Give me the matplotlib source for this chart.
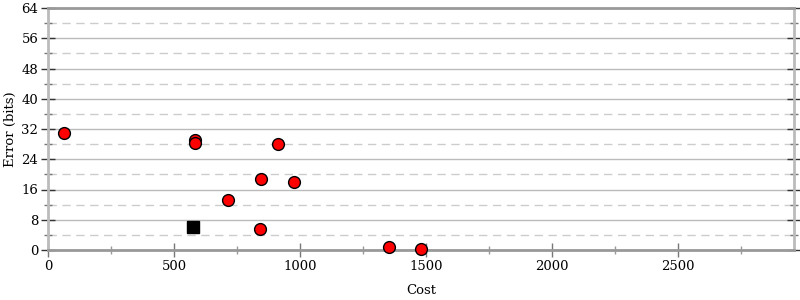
import matplotlib
matplotlib.use("Agg")
import matplotlib.pyplot as plt
from matplotlib.ticker import MultipleLocator

# puntos candidatos (costo, error en bits)
costos = [63, 583, 583, 913, 845, 976, 714, 841, 1353, 1480]
errores = [30.9, 29.1, 28.3, 28.1, 18.8, 18.1, 13.3, 5.6, 0.8, 0.25]

# punto inicial
costo_ini = [575]
error_ini = [6.1]

plt.rcParams["font.family"] = "DejaVu Serif"
plt.rcParams["font.size"] = 9.5

fig = plt.figure(figsize=(8, 3), dpi=100)
ax = fig.add_axes([48 / 800, 50 / 300, 746 / 800, 242 / 300])

ax.set_xlim(0, 2960)
ax.set_ylim(0, 64)

ax.yaxis.set_major_locator(MultipleLocator(8))
ax.yaxis.set_minor_locator(MultipleLocator(4))
ax.xaxis.set_major_locator(MultipleLocator(500))
ax.xaxis.set_minor_locator(MultipleLocator(250))

# cuadricula: solida en multiplos de 8, discontinua en los intermedios
ax.grid(True, which="major", axis="y", color="#bbbbbb", linewidth=1)
ax.grid(True, which="minor", axis="y", color="#cccccc", linewidth=1,
        linestyle=(0, (6, 4)))
ax.set_axisbelow(True)

ax.tick_params(axis="y", which="major", direction="inout", length=10,
               width=1, color="#333333", right=True, pad=2)
ax.tick_params(axis="y", which="minor", direction="inout", length=6,
               width=1, color="#777777", right=True)
ax.tick_params(axis="x", which="major", direction="inout", length=10,
               width=1, color="#777777", top=False, pad=2)
ax.tick_params(axis="x", which="minor", direction="inout", length=6,
               width=1, color="#999999", top=False)

ax.spines["left"].set_color("#bbbbbb")
ax.spines["left"].set_linewidth(2)
ax.spines["right"].set_color("#bbbbbb")
ax.spines["right"].set_linewidth(2)
ax.spines["bottom"].set_color("#999999")
ax.spines["bottom"].set_linewidth(2)
ax.spines["top"].set_color("#999999")
ax.spines["top"].set_linewidth(2)

ax.plot(costos, errores, "o", markersize=8.5, markerfacecolor="red",
        markeredgecolor="black", markeredgewidth=1, clip_on=False, zorder=3)
ax.plot(costo_ini, error_ini, "s", markersize=8, color="black",
        clip_on=False, zorder=3)

ax.set_xlabel("Cost", labelpad=8)
ax.set_ylabel("Error (bits)", labelpad=3)

fig.savefig("out.png", dpi=100)
